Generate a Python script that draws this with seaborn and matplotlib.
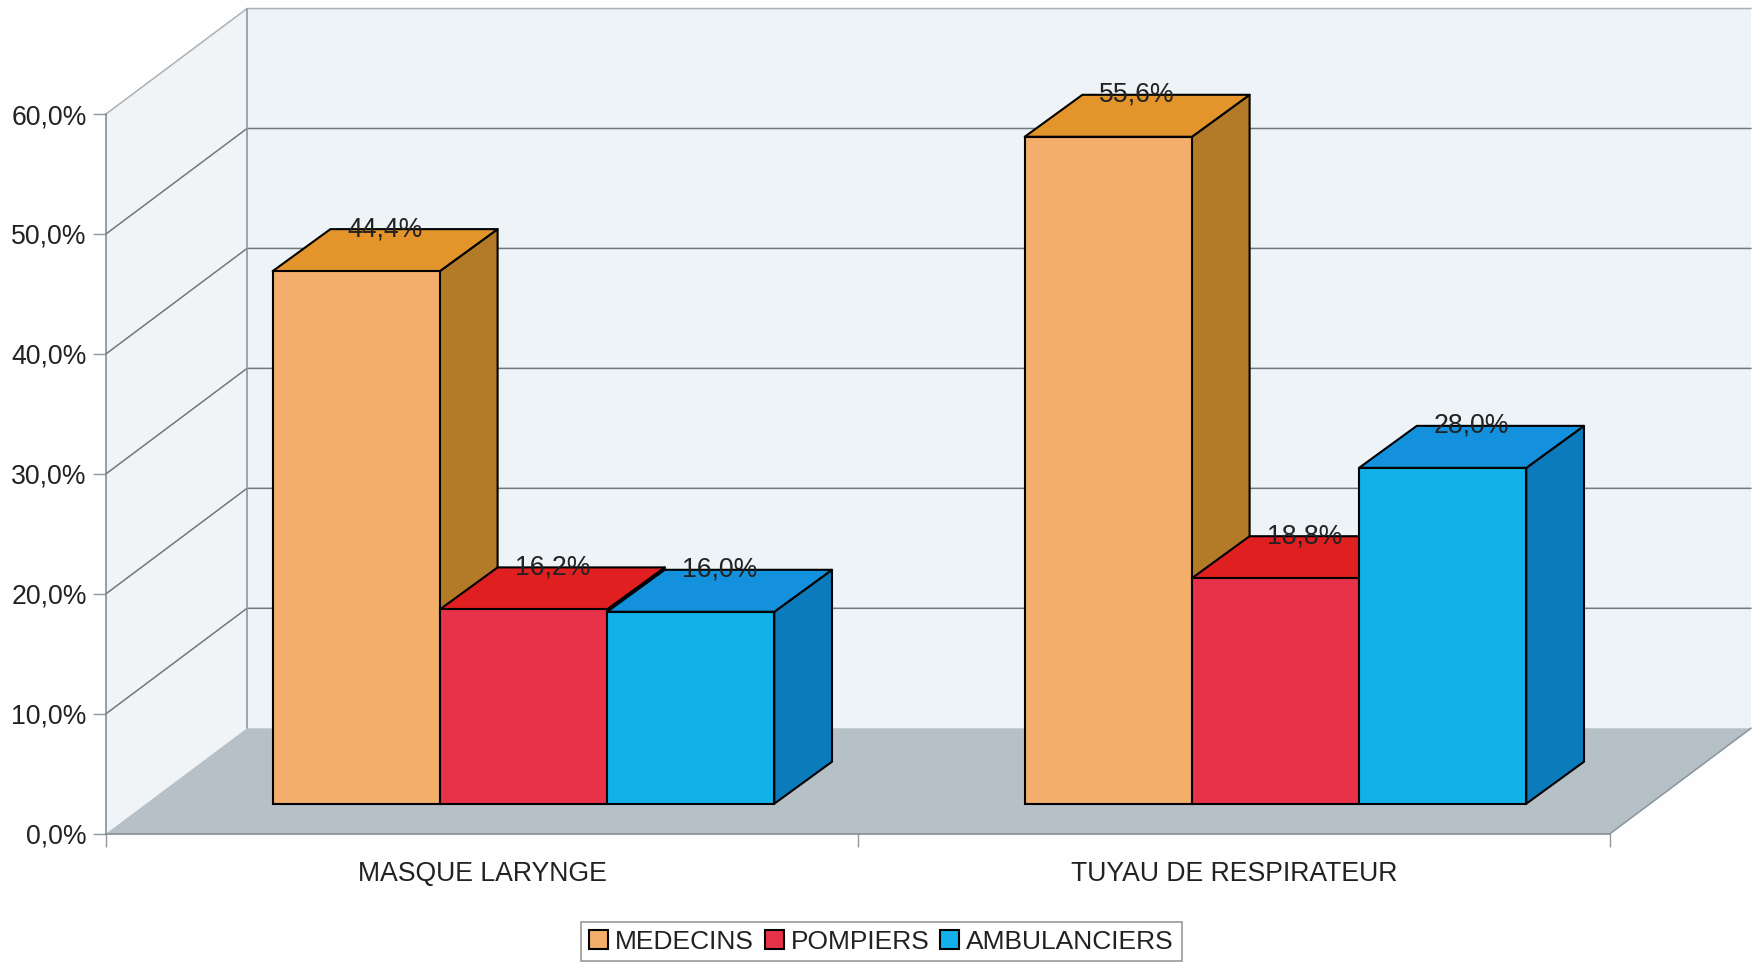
import pandas as pd
import seaborn as sns
from matplotlib import pyplot as plt
from matplotlib.patches import Polygon

categories = ["MASQUE LARYNGE", "TUYAU DE RESPIRATEUR"]
series_names = ["MEDECINS", "POMPIERS", "AMBULANCIERS"]
medecins = [44.4, 55.6]
pompiers = [16.2, 18.8]
ambulanciers = [16.0, 28.0]
y_ticks = [0, 10, 20, 30, 40, 50, 60]

front_colors = ["#F3AE6B", "#E7324A", "#12B1E9"]
top_colors = ["#E3942A", "#DF1F20", "#1391DC"]
side_colors = ["#B37A28", "#A81F2C", "#0B7BBC"]
WALL = "#EEF3F7"
FLOOR = "#B5C0C7"
GRID = "#6E797F"
FONT_SIZE = 19.2

W, H = 1752, 963
PX_X = 752.0  # pixels per category
PX_Y = 12.0  # pixels per percent
WALL_DX, WALL_DY = 141 / PX_X, 105.5 / PX_Y
BAR_DX, BAR_DY = 57.7 / PX_X, 42 / PX_Y

df = pd.DataFrame({
    "category": categories * 3,
    "series": [s for s in series_names for _ in categories],
    "value": medecins + pompiers + ambulanciers,
})

sns.set_theme(style="white")
plt.rcParams["font.family"] = ["Liberation Sans", "DejaVu Sans"]

fig = plt.figure(figsize=(W / 100, H / 100), dpi=100, facecolor="#FEFEFE")
rect = [106 / W, (H - 833.7) / H, 1504 / W, 719.7 / H]
ax = fig.add_axes(rect)
# bars sit a bit deeper than the front plane, same scale
ax_bars = fig.add_axes([rect[0] + 41.5 / W, rect[1] + 30 / H, rect[2], rect[3]])

# walls and floor
ax.set_facecolor("none")
ax.set_xlim(-0.5, 1.5)
ax.set_ylim(0, 60)
x0, x1 = -0.5, 1.5
ax.add_patch(Polygon([(x0, 0), (x0 + WALL_DX, WALL_DY), (x0 + WALL_DX, 60 + WALL_DY), (x0, 60)],
                     facecolor="#F0F4F7", edgecolor="none", clip_on=False, zorder=0))
ax.add_patch(Polygon([(x0 + WALL_DX, WALL_DY), (x1 + WALL_DX, WALL_DY), (x1 + WALL_DX, 60 + WALL_DY),
                      (x0 + WALL_DX, 60 + WALL_DY)],
                     facecolor=WALL, edgecolor="none", clip_on=False, zorder=0))
ax.add_patch(Polygon([(x0, 0), (x1, 0), (x1 + WALL_DX, WALL_DY), (x0 + WALL_DX, WALL_DY)],
                     facecolor=FLOOR, edgecolor="none", clip_on=False, zorder=1))
for t in y_ticks[1:]:
    c = "#A9B1B6" if t == 60 else GRID
    ax.plot([x0, x0 + WALL_DX, x1 + WALL_DX], [t, t + WALL_DY, t + WALL_DY],
            color=c, lw=1.1, clip_on=False, zorder=2)
ax.plot([x0 + WALL_DX, x0 + WALL_DX], [WALL_DY, 60 + WALL_DY], color="#8E989E", lw=1.2, clip_on=False, zorder=2)
ax.plot([x1, x1 + WALL_DX], [0, WALL_DY], color="#8E989E", lw=1.2, clip_on=False, zorder=2)

ax.set_yticks(y_ticks)
ax.set_yticklabels([f"{t},0%" for t in y_ticks], fontsize=FONT_SIZE, color="#222222")
ax.set_xticks([-0.5, 0.5, 1.5])
ax.set_xticklabels([])
ax.set_xticks([0, 1], minor=True)
ax.set_xticklabels(categories, minor=True, fontsize=FONT_SIZE, color="#222222")
ax.tick_params(axis="both", which="major", length=9.5, width=1, color="#8E989E", left=True, bottom=True, pad=4.3)
ax.tick_params(axis="x", which="minor", length=0, pad=20)
sns.despine(ax=ax, top=True, right=True)
for side in ["left", "bottom"]:
    ax.spines[side].set_color("#7C868C")
    ax.spines[side].set_linewidth(1.1)
    ax.spines[side].set_zorder(3)

# bars
sns.barplot(data=df, x="category", y="value", hue="series", order=categories, hue_order=series_names,
            palette=front_colors, saturation=1, width=0.667, gap=0, edgecolor="black", linewidth=1.5, ax=ax_bars)
ax_bars.set_xlim(-0.5, 1.5)
ax_bars.set_ylim(0, 60)
ax_bars.axis("off")

handles, labels = ax_bars.get_legend_handles_labels()
ax_bars.get_legend().remove()

bars = []
for s, cont in enumerate(ax_bars.containers):
    for p in cont:
        bars.append((p.get_x(), s, p))
bars.sort(key=lambda b: b[0])

for k, (x, s, p) in enumerate(bars):
    w, h = p.get_width(), p.get_height()
    z = 10 + k * 3
    ax_bars.add_patch(Polygon([(x + w, 0), (x + w + BAR_DX, BAR_DY), (x + w + BAR_DX, h + BAR_DY), (x + w, h)],
                              facecolor=side_colors[s], edgecolor="black", lw=1.5, clip_on=False,
                              joinstyle="round", zorder=z))
    ax_bars.add_patch(Polygon([(x, h), (x + w, h), (x + w + BAR_DX, h + BAR_DY), (x + BAR_DX, h + BAR_DY)],
                              facecolor=top_colors[s], edgecolor="black", lw=1.5, clip_on=False,
                              joinstyle="round", zorder=z + 1))
    p.set_zorder(z + 2)
    p.set_clip_on(False)
    ax_bars.text(x + w / 2 + BAR_DX / 2, h + BAR_DY, f"{h:.1f}%".replace(".", ","), ha="center", va="center",
                 fontsize=FONT_SIZE, color="#222222", zorder=100, clip_on=False)

leg = fig.legend(handles, labels, loc="center", bbox_to_anchor=(881.5 / W, (H - 941.5) / H), ncol=3,
                 fontsize=19, frameon=True, fancybox=False, framealpha=1, facecolor="white",
                 edgecolor="#9A9A9A", handlelength=0.72, handleheight=0.72, handletextpad=0.25,
                 columnspacing=0.42, borderpad=0.3, borderaxespad=0)
leg.get_frame().set_linewidth(1.2)
for t in leg.get_texts():
    t.set_color("#222222")
for h in leg.legend_handles:
    h.set_edgecolor("black")
    h.set_linewidth(1.5)

fig.savefig("out.png", dpi=100, facecolor=fig.get_facecolor())
